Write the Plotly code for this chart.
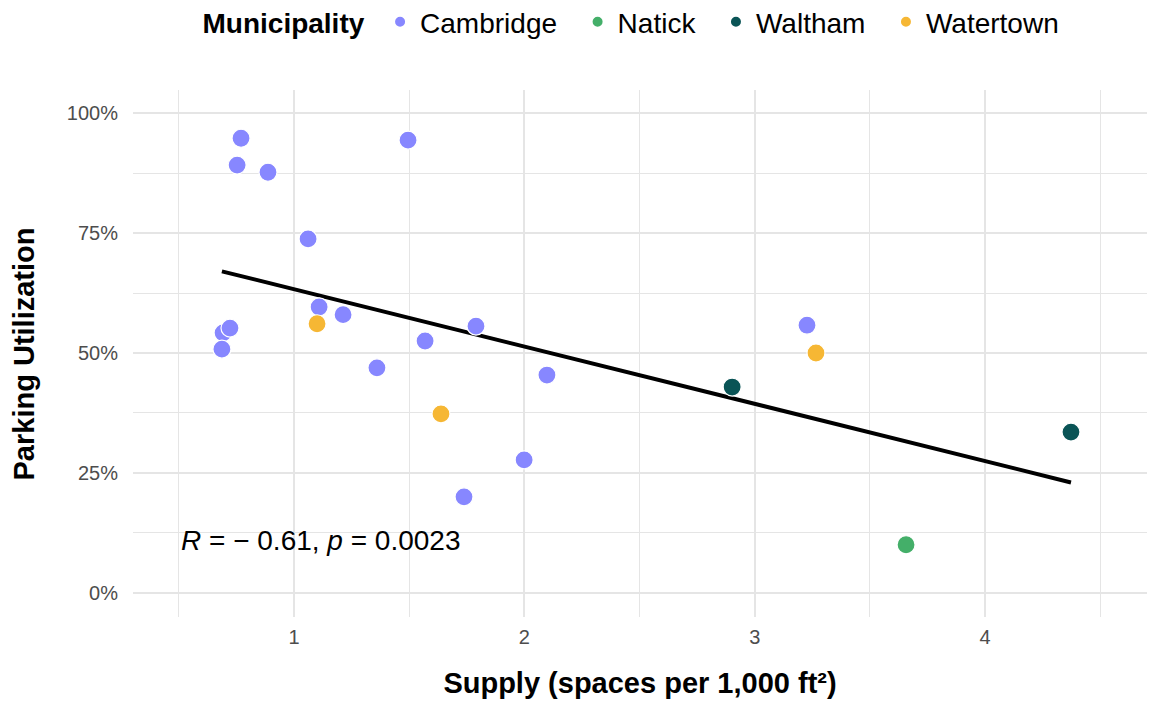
import numpy as np
import plotly.graph_objects as go

# ---- data ----
municipalities = ["Cambridge", "Natick", "Waltham", "Watertown"]
colors = ["#8787FF", "#44AF69", "#0A5456", "#F6B734"]

cambridge_x = [0.770, 0.753, 0.887, 1.495, 1.061, 1.109, 1.213, 0.692, 0.722, 0.687,
               1.360, 1.569, 1.790, 2.098, 1.999, 1.738, 3.227]
cambridge_y = [0.948, 0.892, 0.877, 0.944, 0.738, 0.596, 0.580, 0.542, 0.552, 0.508,
               0.469, 0.525, 0.556, 0.454, 0.277, 0.200, 0.558]
natick_x = [3.657]
natick_y = [0.100]
waltham_x = [2.902, 4.373]
waltham_y = [0.429, 0.335]
watertown_x = [1.100, 1.638, 3.266]
watertown_y = [0.561, 0.373, 0.500]

x_ticks = [1, 2, 3, 4]
y_ticks = [0, 0.25, 0.5, 0.75, 1.0]
y_tick_labels = ["0%", "25%", "50%", "75%", "100%"]

stat_label = "<i>R</i> = − 0.61, <i>p</i> = 0.0023"
caption = "Source: CTPS"
x_title = "<b>Supply (spaces per 1,000 ft²)</b>"
y_title = "<b>Parking Utilization</b>"
legend_title = "<b>Municipality</b> "

series_x = [cambridge_x, natick_x, waltham_x, watertown_x]
series_y = [cambridge_y, natick_y, waltham_y, watertown_y]

FONT = "Liberation Sans, Arial, sans-serif"
PAD = "\u00a0\u00a0"

fig = go.Figure()

# regression line from all points
all_x = np.concatenate([np.array(s) for s in series_x])
all_y = np.concatenate([np.array(s) for s in series_y])
slope, intercept = np.polyfit(all_x, all_y, 1)
lx = np.array([all_x.min(), all_x.max()])
fig.add_trace(go.Scatter(x=lx, y=slope * lx + intercept, mode="lines",
                         line=dict(color="black", width=4), showlegend=False,
                         hoverinfo="skip"))

for name, col, xs, ys in zip(municipalities, colors, series_x, series_y):
    fig.add_trace(go.Scatter(x=xs, y=ys, mode="markers", name=name + PAD,
                             marker=dict(color=col, size=18,
                                         line=dict(color="white", width=1.2))))

grid = "#E5E5E5"
fig.update_layout(
    width=1151, height=702,
    margin=dict(l=133, r=4, t=90, b=85, autoexpand=False),
    paper_bgcolor="white", plot_bgcolor="white",
    font=dict(family=FONT, size=20, color="#4D4D4D"),
    showlegend=True,
    legend=dict(orientation="h", x=0.5, xanchor="center", y=1.129, yanchor="middle",
                title=dict(text=legend_title, font=dict(size=28, color="black", family=FONT)),
                font=dict(size=28, color="black", family=FONT),
                itemsizing="constant", traceorder="normal"),
    xaxis=dict(range=[0.301, 4.703], tickvals=x_ticks, showgrid=True, gridcolor=grid,
               gridwidth=2, zeroline=False, showline=False, ticks="",
               ticklabelstandoff=6,
               minor=dict(tickvals=[0.5, 1.5, 2.5, 3.5, 4.5], showgrid=True,
                          gridcolor=grid, gridwidth=1),
               title=dict(text=x_title,
                          font=dict(size=29, color="black", family=FONT), standoff=25),
               tickfont=dict(size=20, color="#4D4D4D")),
    yaxis=dict(range=[-0.0507, 1.0486], tickvals=y_ticks, ticktext=y_tick_labels,
               showgrid=True, gridcolor=grid, gridwidth=2, zeroline=False,
               showline=False, ticks="", ticklabelstandoff=14,
               minor=dict(tickvals=[0.125, 0.375, 0.625, 0.875], showgrid=True,
                          gridcolor=grid, gridwidth=1),
               tickfont=dict(size=20, color="#4D4D4D")),
)

fig.add_annotation(x=-0.1075, y=0.5, xref="paper", yref="paper", text=y_title,
                   showarrow=False, textangle=-90, xanchor="center", yanchor="middle",
                   font=dict(size=29, color="black", family=FONT))
fig.add_annotation(x=0.5, y=0.108, xref="x", yref="y", text=stat_label,
                   showarrow=False, xanchor="left", yanchor="middle",
                   font=dict(size=28, color="black", family=FONT))
fig.add_annotation(x=1.01, y=-0.152, xref="paper", yref="paper", text=caption,
                   showarrow=False, xanchor="right", yanchor="top",
                   font=dict(size=22, color="#4D4D4D", family=FONT))

fig.write_html("out.html")
